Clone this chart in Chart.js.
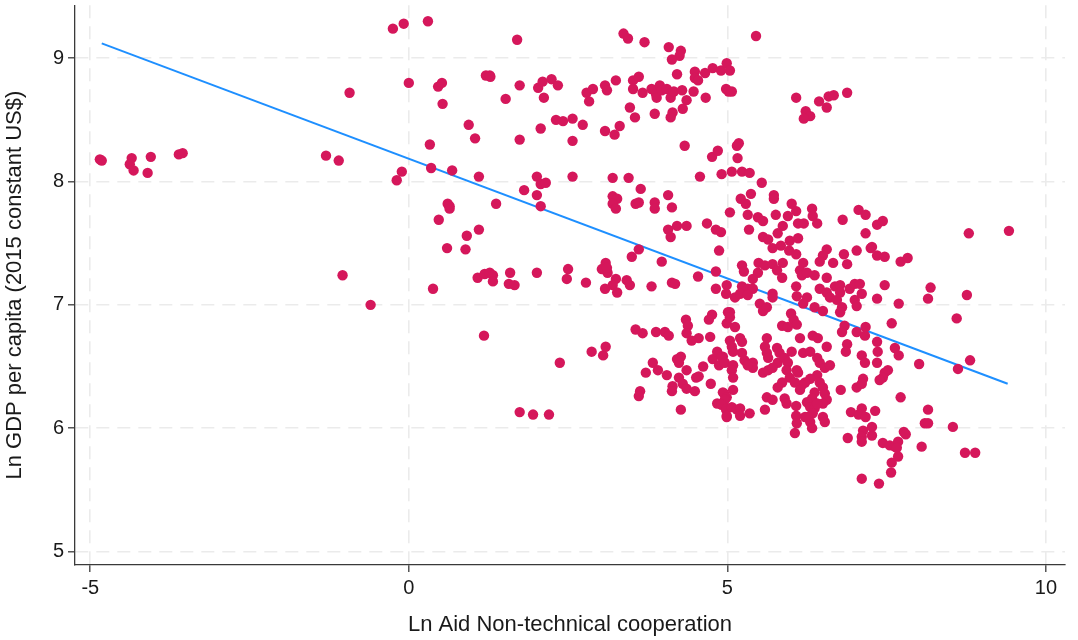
<!DOCTYPE html>
<html>
<head>
<meta charset="utf-8">
<script src="https://cdn.jsdelivr.net/npm/chart.js@4.4.1/dist/chart.umd.min.js"></script>
<style>
  html,body{margin:0;padding:0;background:#fff;}
  #wrap{width:1078px;height:640px;}
</style>
</head>
<body>
<div id="wrap"><canvas id="c" width="1078" height="640"></canvas></div>
<script>
// [ln aid non-technical cooperation, ln GDP per capita]
const scatterPairs = [
[-4.85,8.18],[-4.82,8.17],[-4.35,8.19],[-4.38,8.14],[-4.32,8.09],[-4.10,8.07],[-4.05,8.20],[-3.61,8.22],[-3.55,8.23],[-1.30,8.21],[-1.10,8.17],[-1.04,7.24],[-0.60,7.00],
[-0.25,9.24],[-0.08,9.28],[0.30,9.30],[1.70,9.15],[-0.93,8.72],[0.00,8.80],[0.46,8.77],[0.52,8.80],[0.53,8.63],[1.21,8.86],[1.27,8.86],[1.28,8.85],[1.74,8.78],[1.52,8.67],[2.03,8.76],[2.10,8.81],[2.24,8.83],[2.34,8.78],[2.12,8.68],[2.31,8.50],[2.07,8.43],[1.74,8.34],[0.94,8.46],[1.04,8.35],[0.33,8.30],[0.35,8.11],[0.68,8.09],[1.10,8.04],[-0.11,8.08],[-0.19,8.01],[1.81,7.93],[2.01,8.04],[2.07,7.98],[2.15,7.99],[2.01,7.89],
[0.61,7.82],[0.64,7.80],[0.64,7.78],[0.47,7.69],[1.37,7.82],[2.07,7.80],[1.10,7.61],[0.91,7.56],[0.60,7.46],[0.89,7.45],[1.08,7.22],[1.19,7.25],[1.27,7.26],[1.32,7.24],[1.32,7.19],[1.59,7.26],[1.57,7.17],[1.66,7.16],[2.01,7.26],[0.38,7.13],[1.18,6.75],[1.74,6.13],[1.95,6.11],[2.20,6.11],[2.37,6.53],
[3.37,9.20],[3.44,9.16],[3.70,9.13],[4.08,9.09],[4.27,9.06],[4.25,9.02],[4.13,8.99],[4.21,8.87],[4.49,8.89],[4.49,8.84],[4.54,8.82],[4.65,8.88],[4.77,8.92],[4.90,8.90],[4.99,8.96],[5.04,8.90],[4.98,8.75],[5.02,8.73],[5.07,8.73],[2.79,8.72],[2.89,8.75],[2.83,8.65],[3.08,8.78],[3.11,8.74],[3.25,8.82],[3.52,8.82],[3.61,8.85],[3.52,8.75],[3.67,8.72],[3.81,8.75],[3.88,8.71],[3.89,8.68],[3.94,8.78],[3.97,8.74],[4.05,8.75],[4.13,8.72],[4.11,8.68],[4.16,8.73],[4.29,8.74],[4.36,8.66],[4.30,8.59],[4.47,8.73],[4.66,8.68],[4.14,8.56],[4.11,8.52],[3.86,8.55],[3.47,8.60],[3.55,8.52],[2.57,8.51],[2.42,8.49],[2.73,8.46],[3.08,8.41],[3.23,8.38],[3.31,8.45],[2.57,8.33],[4.33,8.29],[4.76,8.20],[4.85,8.25],[5.15,8.29],[5.18,8.31],[5.16,8.19],[2.57,8.04],[3.20,8.03],[3.45,8.03],[4.57,8.04],[4.91,8.06],[5.07,8.08],[5.23,8.08],[5.35,8.07],
[5.45,9.18],[6.08,8.68],[6.44,8.65],[6.56,8.60],[6.59,8.69],[6.67,8.70],[6.88,8.72],[6.23,8.57],[6.30,8.53],[6.20,8.51],
[3.64,7.94],[3.20,7.88],[3.27,7.86],[3.20,7.82],[3.25,7.78],[3.56,7.82],[3.61,7.83],[3.86,7.83],[3.86,7.78],[4.07,7.89],[4.13,7.79],[4.07,7.61],[4.21,7.64],[4.11,7.55],[4.36,7.64],[4.68,7.66],[4.82,7.61],[4.90,7.59],[4.87,7.44],[3.61,7.45],[3.50,7.39],[3.97,7.35],[2.50,7.29],[2.48,7.21],[2.78,7.18],[3.09,7.34],[3.03,7.29],[3.12,7.26],[3.11,7.30],[3.25,7.21],[3.20,7.16],[3.08,7.13],[3.27,7.10],[3.42,7.20],[3.47,7.16],[3.81,7.15],[4.13,7.18],[4.18,7.17],[4.54,7.23],[4.82,7.27],[4.82,7.13],[4.99,7.16],[4.98,7.09],[5.04,7.75],[4.35,6.88],[4.38,6.83],[4.36,6.77],[4.76,6.92],[4.71,6.88],[4.73,6.74],[4.99,6.85],[5.01,6.94],[3.56,6.80],[3.67,6.77],[3.88,6.78],[4.02,6.78],[4.08,6.75],[4.55,6.73],
[2.87,6.62],[3.05,6.59],[3.09,6.66],[4.44,6.71],[3.83,6.53],[3.72,6.45],[3.91,6.47],[4.05,6.43],[4.21,6.56],[4.27,6.58],[4.24,6.53],[4.36,6.47],[4.24,6.41],[4.14,6.34],[4.13,6.30],[4.30,6.36],[4.36,6.32],[4.51,6.41],[4.55,6.42],[4.62,6.50],[4.77,6.56],[4.84,6.62],[4.93,6.58],[4.87,6.51],[4.74,6.36],[4.49,6.30],[3.63,6.30],[3.61,6.26],[4.27,6.15],[4.95,6.28],[4.84,6.20],[4.93,6.20],[4.98,6.15],[4.99,6.09],
[5.54,7.99],[5.37,7.90],[5.21,7.86],[5.29,7.82],[5.73,7.89],[5.73,7.86],[6.01,7.82],[6.33,7.78],[6.34,7.72],[6.41,7.66],[5.32,7.73],[5.48,7.71],[5.56,7.68],[5.34,7.61],[5.76,7.73],[5.95,7.72],[6.08,7.76],[5.87,7.64],[5.79,7.58],[6.11,7.66],[6.20,7.66],[5.56,7.55],[5.64,7.53],[5.71,7.46],[5.84,7.48],[5.98,7.52],[6.11,7.54],[5.97,7.44],[6.08,7.41],[6.56,7.45],[6.50,7.40],[6.45,7.35],[6.66,7.34],[6.83,7.41],[6.88,7.33],[7.03,7.44],[7.25,7.46],[7.35,7.40],[7.06,7.77],[7.17,7.73],[7.35,7.65],[7.17,7.58],[6.81,7.69],[5.23,7.32],[5.26,7.27],[5.49,7.34],[5.59,7.32],[5.71,7.33],[5.87,7.34],[5.78,7.28],[5.86,7.22],[5.48,7.26],[5.40,7.21],[6.14,7.28],[6.19,7.34],[6.17,7.24],[6.25,7.26],[6.37,7.24],[6.56,7.22],[6.08,7.15],[5.12,7.06],[5.23,7.15],[5.32,7.13],[5.40,7.13],[5.20,7.09],[5.32,7.08],[5.71,7.09],[5.71,7.06],[6.09,7.07],[6.25,7.06],[6.19,7.01],[5.51,7.01],[5.56,6.95],[5.62,6.98],[6.37,6.98],[6.50,6.95],[6.45,7.13],[6.56,7.10],[6.61,7.06],[6.69,7.15],[6.77,7.16],[6.77,7.10],[6.72,7.04],[6.80,6.98],[6.77,6.94],[6.92,7.13],[7.00,7.17],[7.08,7.17],[7.11,7.09],[7.00,7.04],[7.03,6.99],[7.35,7.05],[7.17,6.82],[5.04,6.94],[5.04,6.90],[5.12,6.82],[6.00,6.93],[6.04,6.88],[6.09,6.84],[5.86,6.83],[5.95,6.82],[6.84,6.83],
[6.14,6.73],[6.34,6.75],[6.42,6.73],[6.56,6.66],[6.80,6.78],[7.03,6.78],[7.16,6.75],[6.88,6.68],[6.86,6.62],[7.35,6.70],[7.36,6.62],[7.35,6.53],[7.11,6.59],[7.16,6.53],[5.04,6.71],[5.07,6.66],[5.20,6.73],[5.23,6.70],[5.09,6.62],[5.23,6.61],[4.91,6.58],[4.96,6.53],[5.27,6.55],[5.40,6.53],[5.40,6.49],[5.32,6.51],[5.09,6.51],[5.07,6.47],[5.09,6.41],[5.62,6.73],[5.59,6.66],[5.62,6.61],[5.64,6.57],[5.78,6.65],[5.82,6.61],[5.79,6.53],[5.90,6.57],[6.01,6.62],[5.95,6.53],[5.56,6.45],[5.64,6.47],[5.71,6.49],[6.19,6.61],[6.30,6.62],[6.41,6.57],[6.45,6.53],[6.53,6.49],[6.61,6.51],[5.93,6.47],[6.09,6.47],[6.11,6.45],[5.98,6.41],[5.86,6.37],[5.79,6.33],[6.41,6.43],[6.30,6.40],[6.22,6.37],[6.17,6.35],[6.45,6.37],[6.06,6.37],[6.14,6.31],[6.50,6.33],[6.53,6.28],[6.56,6.23],[6.50,6.20],[6.37,6.29],[6.33,6.24],[6.25,6.21],[6.30,6.17],[6.37,6.16],[6.34,6.12],[6.26,6.09],[6.30,6.05],[6.33,6.00],[6.22,6.09],[6.41,6.20],[6.50,6.09],[6.53,6.05],[4.93,6.29],[4.99,6.25],[4.96,6.23],[4.91,6.19],[4.99,6.16],[4.99,6.10],[5.07,6.17],[5.15,6.15],[5.20,6.16],[5.20,6.10],[5.35,6.12],[5.09,6.31],[5.62,6.25],[5.71,6.23],[5.59,6.15],[5.90,6.24],[5.93,6.20],[6.08,6.18],[6.08,6.10],[6.09,6.04],[6.06,5.96],[6.78,6.31],[7.03,6.33],[7.13,6.40],[7.11,6.36],[6.94,6.13],[7.11,6.16],[7.06,6.11],[7.17,6.09],[7.32,6.14],[6.89,5.92],[7.13,5.98],[7.11,5.93],[7.11,5.89],[7.27,5.94],[7.27,6.01],[7.11,5.59],[7.38,5.55],
[7.44,7.68],[7.27,7.47],[7.47,7.39],[7.72,7.35],[7.83,7.38],[8.79,7.58],[9.42,7.60],[7.47,7.16],[7.69,7.01],[8.19,7.14],[8.15,7.05],[8.76,7.08],[7.58,6.85],[8.60,6.89],
[7.63,6.65],[7.69,6.59],[8.01,6.52],[8.62,6.48],[8.81,6.55],[7.52,6.47],[7.47,6.45],[7.44,6.41],[7.39,6.39],[7.72,6.25],[8.15,6.15],[8.10,6.04],[8.15,6.04],[8.54,6.01],[7.77,5.97],[7.80,5.95],[7.44,5.88],[7.55,5.86],[7.63,5.85],[7.68,5.89],[7.66,5.84],[7.68,5.77],[8.05,5.85],[8.73,5.80],[8.89,5.80],[7.58,5.72],[7.57,5.64]
];

// fitted line endpoints
const fitX = [-4.82, 9.40];
const fitY = [9.12, 6.36];

const xTicks = [-5, 0, 5, 10];
const yTicks = [5, 6, 7, 8, 9];
const xRange = [-5.24, 10.3];
const yRange = [4.89, 9.43];

const xTitle = 'Ln Aid Non-technical cooperation';
const yTitle = 'Ln GDP per capita (2015 constant US$)';

const scatterData = scatterPairs.map(p => ({x: p[0], y: p[1]}));
const fitData = fitX.map((x, i) => ({x: x, y: fitY[i]}));

const FONT = '"Liberation Sans", Arial, Helvetica, sans-serif';
const gridCommon = {
  color: '#ebebeb',
  lineWidth: 1.6,
  drawTicks: true,
  tickLength: 7,
  tickColor: '#3a3a3a',
  tickWidth: 1.3,
  tickBorderDash: []
};
const borderCommon = { display: true, color: '#3a3a3a', width: 1.3, dash: [13, 8] };

function noPad(s) { s.paddingTop = 0; s.paddingBottom = 0; s.paddingLeft = 0; s.paddingRight = 0; }

new Chart(document.getElementById('c'), {
  type: 'scatter',
  data: {
    datasets: [
      {
        data: scatterData,
        backgroundColor: '#d5175b',
        borderWidth: 0,
        pointRadius: 5.2,
        pointHoverRadius: 5.2
      },
      {
        type: 'line',
        data: fitData,
        borderColor: '#1e8fff',
        borderWidth: 2,
        pointRadius: 0,
        fill: false,
        showLine: true
      }
    ]
  },
  options: {
    responsive: false,
    animation: false,
    devicePixelRatio: 1,
    layout: { padding: { top: 5, right: 13, left: 0, bottom: 0 } },
    plugins: { legend: { display: false }, tooltip: { enabled: false } },
    scales: {
      x: {
        type: 'linear',
        min: xRange[0], max: xRange[1],
        afterBuildTicks: s => { s.ticks = xTicks.map(v => ({value: v})); },
        afterFit: s => { s.height = 75; noPad(s); },
        grid: gridCommon,
        border: borderCommon,
        ticks: { font: { family: FONT, size: 20 }, color: '#1a1a1a', padding: 4, maxRotation: 0 },
        title: { display: true, text: xTitle, font: { family: FONT, size: 22 }, color: '#1a1a1a', padding: { top: 2, bottom: 2 } }
      },
      y: {
        type: 'linear',
        min: yRange[0], max: yRange[1],
        afterBuildTicks: s => { s.ticks = yTicks.map(v => ({value: v})); },
        afterFit: s => { s.width = 75; noPad(s); },
        grid: gridCommon,
        border: borderCommon,
        ticks: { font: { family: FONT, size: 20 }, color: '#1a1a1a', padding: 4 },
        title: { display: true, text: yTitle, font: { family: FONT, size: 22 }, color: '#1a1a1a', padding: { top: 2, bottom: 2 } }
      }
    }
  }
});
</script>
</body>
</html>
